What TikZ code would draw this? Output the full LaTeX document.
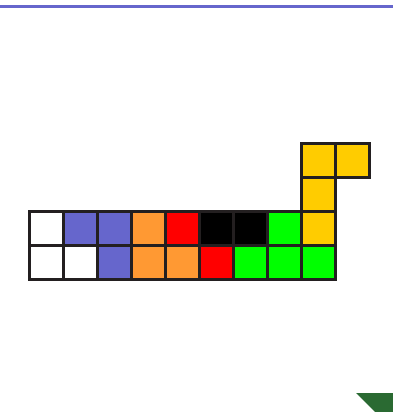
\documentclass[tikz,border=0pt]{standalone}
\usetikzlibrary{positioning}
\definecolor{cellblue}{HTML}{6666CC}
\definecolor{cellorange}{HTML}{FF9933}
\definecolor{cellred}{HTML}{FF0000}
\definecolor{cellgreen}{HTML}{00FF00}
\definecolor{cellyellow}{HTML}{FFCC00}
\definecolor{edgedark}{HTML}{231F20}
\definecolor{cornergreen}{HTML}{2A6A32}
\begin{document}
\begin{tikzpicture}[
    x=1pt, y=-1pt,
    cell/.style={draw=edgedark, line width=3pt},
]
    % 画布
    \useasboundingbox (0,0) rectangle (393,412);

    % 顶部线条
    \draw[cellblue, line width=2.4pt] (0,6.5) -- (393,6.5);

    % 方格 (列, 行, 颜色)
    \foreach \c/\r/\col in {
        0/3/white, 1/3/white, 2/3/cellblue, 3/3/cellorange, 4/3/cellorange,
        5/3/cellred, 6/3/cellgreen, 7/3/cellgreen, 8/3/cellgreen,
        0/2/white, 1/2/cellblue, 2/2/cellblue, 3/2/cellorange, 4/2/cellred,
        5/2/black, 6/2/black, 7/2/cellgreen, 8/2/cellyellow,
        8/1/cellyellow,
        8/0/cellyellow, 9/0/cellyellow}
    {
        \draw[cell, fill=\col] (29+34*\c,143+34*\r) rectangle ++(34,34);
    }

    % 右下角三角
    \fill[cornergreen] (356,393) -- (393,393) -- (393,412) -- (375,412) -- cycle;
\end{tikzpicture}
\end{document}
